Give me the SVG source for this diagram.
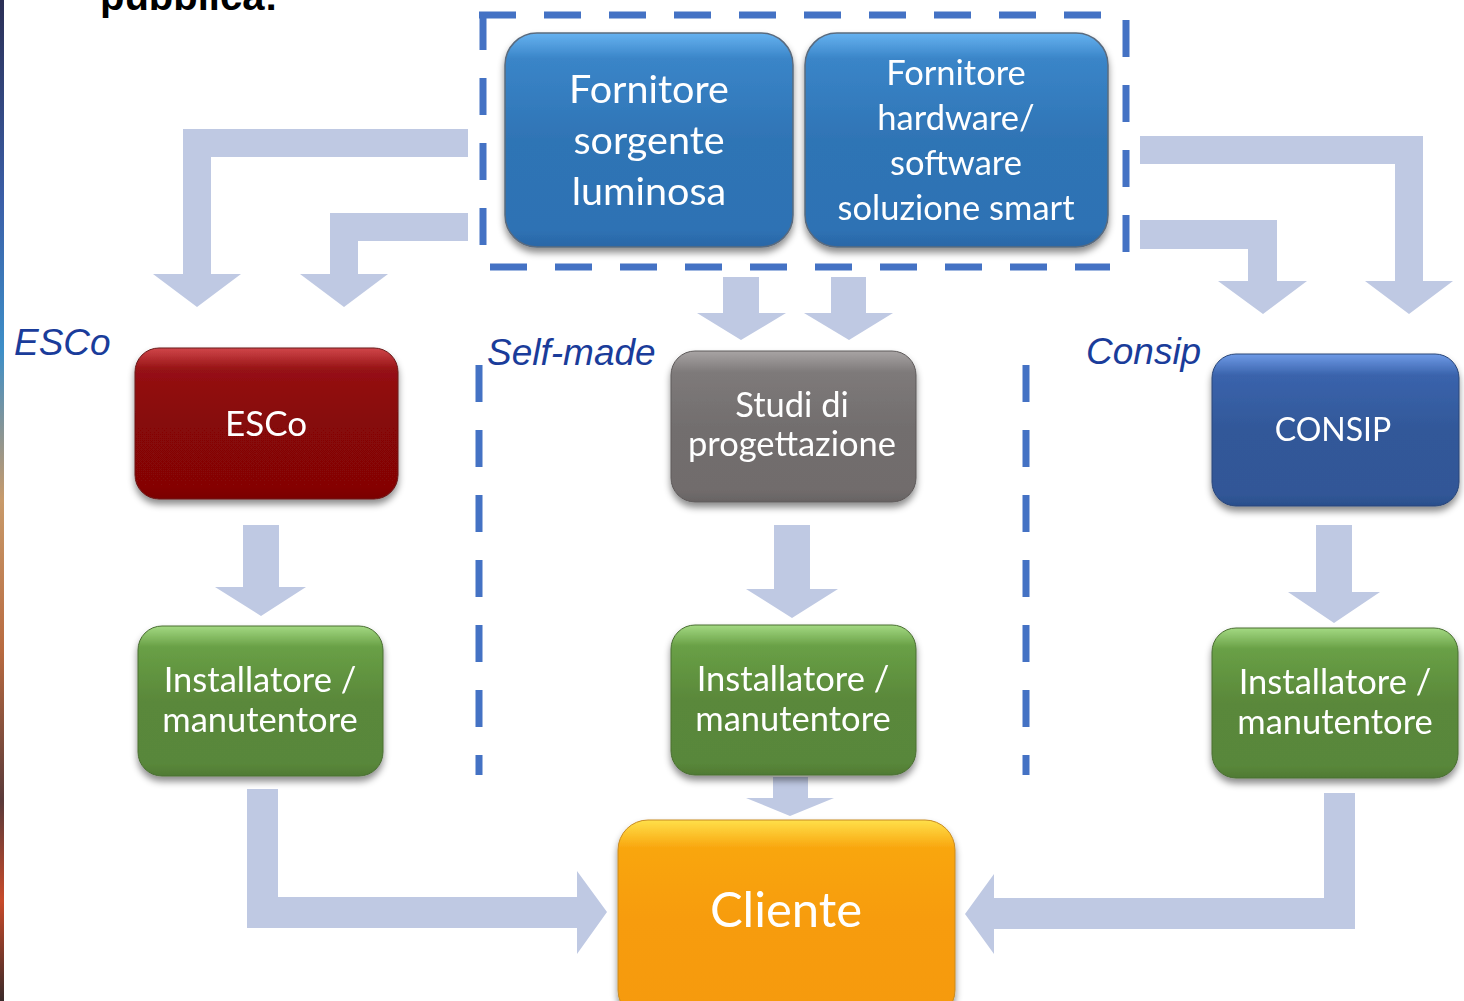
<svg xmlns="http://www.w3.org/2000/svg" width="1464" height="1001" viewBox="0 0 1464 1001">
<defs>
<style>
.nt{font-family:Lato,"Liberation Sans",sans-serif;fill:#fff;text-anchor:middle}
.lbl{font-family:"Liberation Sans",Arial,sans-serif;font-style:italic;fill:#1A3C9A;font-size:37px}
.arr{fill:#BFC9E3}
.dash{stroke:#4472C4;stroke-width:7;fill:none;stroke-dasharray:37 28}
</style>
<filter id="sh" x="-10%" y="-10%" width="120%" height="130%">
<feDropShadow dx="0" dy="5" stdDeviation="3.5" flood-color="#000" flood-opacity="0.45"/>
</filter>
<linearGradient id="gBlue" x1="0" y1="0" x2="0" y2="1">
<stop offset="0" stop-color="#66B2F0"/><stop offset="0.12" stop-color="#3A85C8"/><stop offset="0.5" stop-color="#2F74B5"/><stop offset="0.92" stop-color="#2E72B4"/><stop offset="1" stop-color="#2A66A6"/>
</linearGradient>
<linearGradient id="gRed" x1="0" y1="0" x2="0" y2="1">
<stop offset="0" stop-color="#D0474A"/><stop offset="0.14" stop-color="#961214"/><stop offset="0.5" stop-color="#860707"/><stop offset="0.92" stop-color="#850606"/><stop offset="1" stop-color="#7A0505"/>
</linearGradient>
<linearGradient id="gGray" x1="0" y1="0" x2="0" y2="1">
<stop offset="0" stop-color="#A8A4A4"/><stop offset="0.14" stop-color="#7E7A7A"/><stop offset="0.5" stop-color="#726E6E"/><stop offset="0.92" stop-color="#716C6C"/><stop offset="1" stop-color="#676363"/>
</linearGradient>
<linearGradient id="gNavy" x1="0" y1="0" x2="0" y2="1">
<stop offset="0" stop-color="#6E9AE6"/><stop offset="0.14" stop-color="#3A63AC"/><stop offset="0.5" stop-color="#325899"/><stop offset="0.92" stop-color="#315797"/><stop offset="1" stop-color="#2B4F8C"/>
</linearGradient>
<linearGradient id="gGreen" x1="0" y1="0" x2="0" y2="1">
<stop offset="0" stop-color="#A3D982"/><stop offset="0.14" stop-color="#69A046"/><stop offset="0.5" stop-color="#5A883A"/><stop offset="0.92" stop-color="#59873A"/><stop offset="1" stop-color="#4F7A33"/>
</linearGradient>
<linearGradient id="gOrange" x1="0" y1="0" x2="0" y2="1">
<stop offset="0" stop-color="#FFE04A"/><stop offset="0.14" stop-color="#F9A60E"/><stop offset="0.5" stop-color="#F79C08"/><stop offset="1" stop-color="#F69A08"/>
</linearGradient>
<linearGradient id="strip" x1="0" y1="0" x2="0" y2="1">
<stop offset="0" stop-color="#2B2F55"/><stop offset="0.2" stop-color="#3B5FA8"/><stop offset="0.35" stop-color="#3D8FC8"/><stop offset="0.5" stop-color="#C89A6A"/><stop offset="0.65" stop-color="#B86A40"/><stop offset="0.8" stop-color="#5A3A3A"/><stop offset="0.9" stop-color="#C84A2A"/><stop offset="1" stop-color="#3A2A2A"/>
</linearGradient>
</defs>
<rect width="1464" height="1001" fill="#fff"/>
<rect x="0" y="0" width="4" height="1001" fill="url(#strip)"/>
<text x="100" y="10" font-family="'Liberation Sans',Arial,sans-serif" font-weight="bold" font-size="40" fill="#000">pubblica:</text>

<g id="groups">
<line class="dash" x1="483" y1="13" x2="483" y2="267"/>
<line class="dash" x1="479" y1="15" x2="1110" y2="15"/>
<line class="dash" x1="1126" y1="20" x2="1126" y2="267"/>
<line class="dash" x1="490" y1="267" x2="1110" y2="267"/>
<line class="dash" x1="479" y1="365" x2="479" y2="775"/>
<line class="dash" x1="1026" y1="365" x2="1026" y2="775"/>
<text class="lbl" x="14" y="355">ESCo</text>
<text class="lbl" x="487" y="365">Self-made</text>
<text class="lbl" x="1086" y="364">Consip</text>
</g>

<g id="connectors">
<polygon class="arr" points="468,129 183,129 183,274 153,274 197,307 241,274 211,274 211,157 468,157"/>
<polygon class="arr" points="468,213 330,213 330,274 300,274 344,307 388,274 358,274 358,241 468,241"/>
<polygon class="arr" points="1140,136 1423,136 1423,281 1453,281 1409,314 1365,281 1395,281 1395,164 1140,164"/>
<polygon class="arr" points="1140,220 1277,220 1277,281 1307,281 1263,314 1218,281 1248,281 1248,249 1140,249"/>
<polygon class="arr" points="723,277 759,277 759,313 786,313 741,340 697,313 723,313"/>
<polygon class="arr" points="831,277 866,277 866,313 893,313 849,340 804,313 831,313"/>
<polygon class="arr" points="243,525 279,525 279,587 306,587 261,616 215,587 243,587"/>
<polygon class="arr" points="774,525 810,525 810,589 838,589 792,618 746,589 774,589"/>
<polygon class="arr" points="1316,525 1352,525 1352,592 1380,592 1334,623 1288,592 1316,592"/>
<polygon class="arr" points="773,777 808,777 808,798 834,798 790,816 746,798 773,798"/>
<polygon class="arr" points="247,789 278,789 278,897 577,897 577,871 607,912 577,954 577,928 247,928"/>
<polygon class="arr" points="1324,793 1355,793 1355,929 994,929 994,954 965,914 994,874 994,898 1324,898"/>
</g>

<g id="n-fornitore-sorgente" filter="url(#sh)">
<rect x="505" y="33" width="288" height="214" rx="32" fill="url(#gBlue)" stroke="#5A6B7E" stroke-width="1.5"/>
<text class="nt" font-size="39.5"><tspan x="649" y="103">Fornitore</tspan><tspan x="649" y="154">sorgente</tspan><tspan x="649" y="205">luminosa</tspan></text>
</g>
<g id="n-fornitore-hw" filter="url(#sh)">
<rect x="805" y="33" width="303" height="214" rx="32" fill="url(#gBlue)" stroke="#5A6B7E" stroke-width="1.5"/>
<text class="nt" font-size="34.5"><tspan x="956" y="85">Fornitore</tspan><tspan x="956" y="130">hardware/</tspan><tspan x="956" y="175">software</tspan><tspan x="956" y="220">soluzione smart</tspan></text>
</g>
<g id="n-esco" filter="url(#sh)">
<rect x="135" y="348" width="263" height="151" rx="24" fill="url(#gRed)" stroke="#6A1A1A" stroke-width="1"/>
<text class="nt" font-size="35" x="266" y="436">ESCo</text>
</g>
<g id="n-studi" filter="url(#sh)">
<rect x="671" y="351" width="245" height="151" rx="24" fill="url(#gGray)" stroke="#5E5A5A" stroke-width="1"/>
<text class="nt" font-size="34.5"><tspan x="792" y="417">Studi di</tspan><tspan x="792" y="456">progettazione</tspan></text>
</g>
<g id="n-consip" filter="url(#sh)">
<rect x="1212" y="354" width="247" height="152" rx="24" fill="url(#gNavy)" stroke="#2A4678" stroke-width="1"/>
<text class="nt" font-size="32" x="1333" y="441">CONSIP</text>
</g>
<g id="n-install-esco" filter="url(#sh)">
<rect x="138" y="626" width="245" height="150" rx="24" fill="url(#gGreen)" stroke="#4A6E33" stroke-width="1"/>
<text class="nt" font-size="34.5"><tspan x="260" y="692">Installatore /</tspan><tspan x="260" y="732">manutentore</tspan></text>
</g>
<g id="n-install-self" filter="url(#sh)">
<rect x="671" y="625" width="245" height="150" rx="24" fill="url(#gGreen)" stroke="#4A6E33" stroke-width="1"/>
<text class="nt" font-size="34.5"><tspan x="793" y="691">Installatore /</tspan><tspan x="793" y="731">manutentore</tspan></text>
</g>
<g id="n-install-consip" filter="url(#sh)">
<rect x="1212" y="628" width="246" height="150" rx="24" fill="url(#gGreen)" stroke="#4A6E33" stroke-width="1"/>
<text class="nt" font-size="34.5"><tspan x="1335" y="694">Installatore /</tspan><tspan x="1335" y="734">manutentore</tspan></text>
</g>
<g id="n-cliente" filter="url(#sh)">
<rect x="618" y="820" width="337" height="200" rx="30" fill="url(#gOrange)" stroke="#C88A20" stroke-width="1"/>
<text class="nt" font-size="49" x="786" y="927">Cliente</text>
</g>
</svg>
